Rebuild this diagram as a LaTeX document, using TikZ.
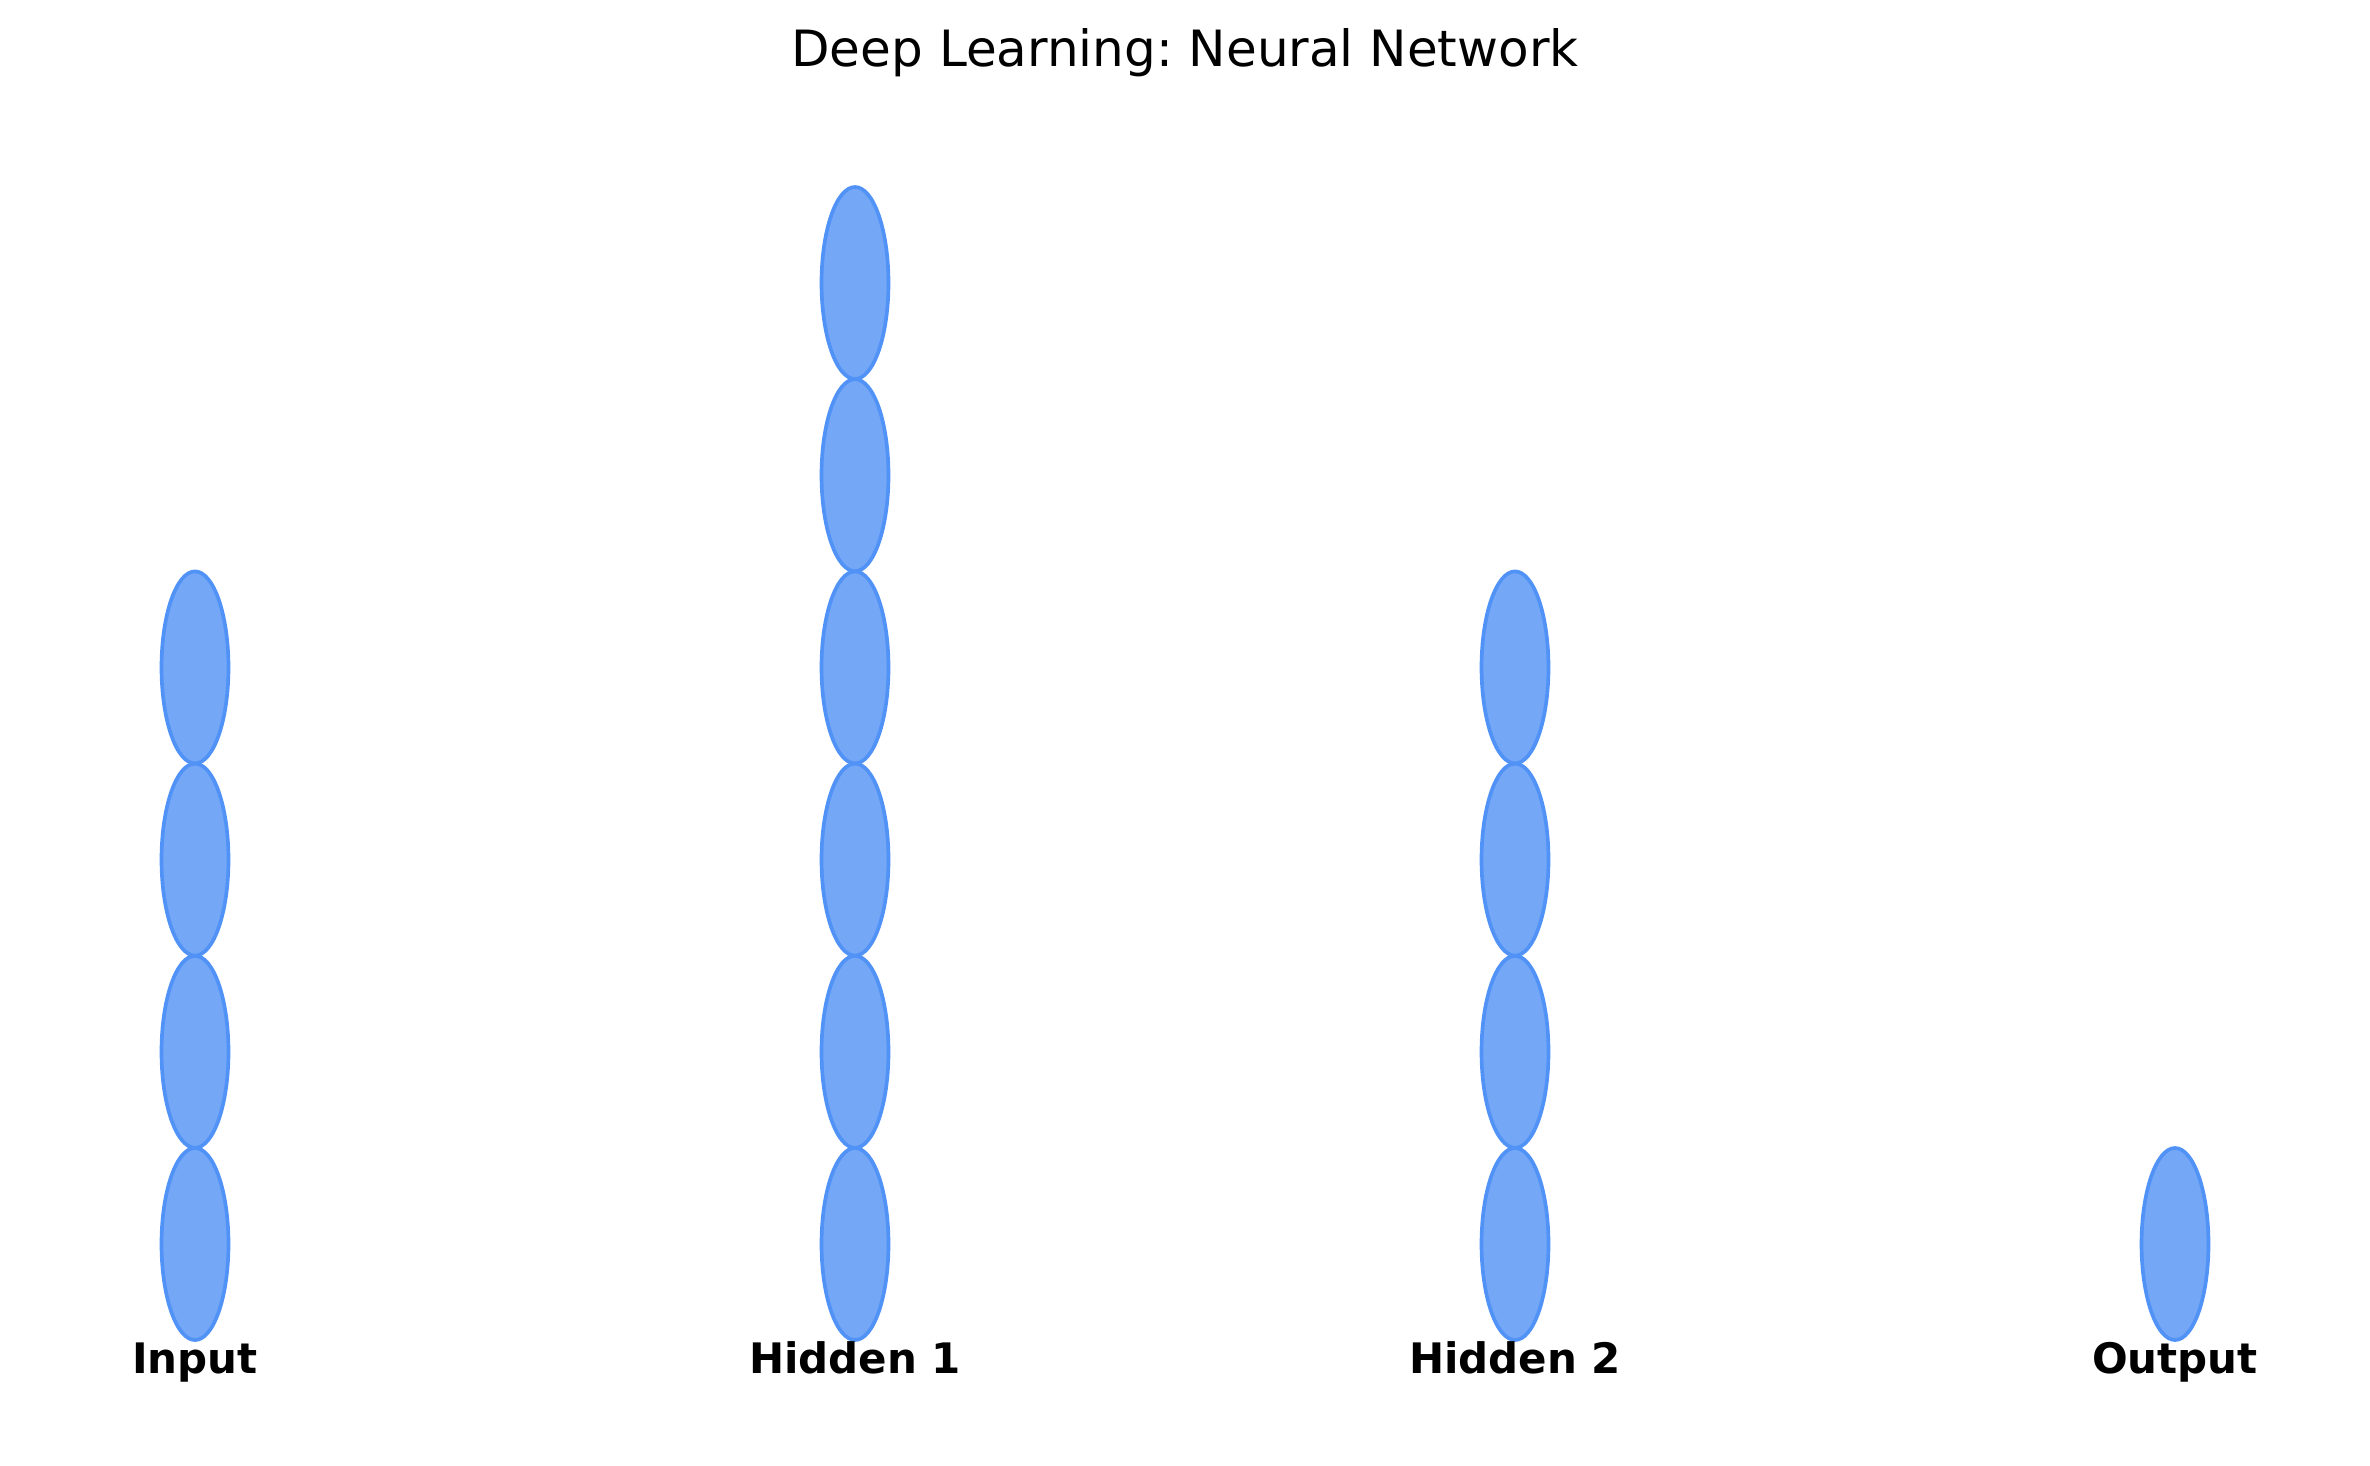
\documentclass[tikz,border=0pt]{standalone}
\usepackage{fontspec}
\setmainfont{DejaVu Sans}
\usetikzlibrary{shapes.geometric}
\definecolor{neuronfill}{RGB}{117,167,247}
\definecolor{neuronedge}{RGB}{80,146,246}
\tikzset{
  neuron/.style={ellipse, draw=neuronedge, fill=neuronfill, line width=1.1pt,
    minimum width=20.1pt, minimum height=57.6pt, inner sep=0pt},
  layerlabel/.style={anchor=base, inner sep=0pt, font=\fontsize{12.6}{15}\selectfont\bfseries},
  titlestyle/.style={anchor=base, inner sep=0pt, font=\fontsize{15}{18}\selectfont}
}
\frenchspacing
\begin{document}
\begin{tikzpicture}[x=0.3pt,y=-0.3pt]
\useasboundingbox (0,0) rectangle (2370,1466);
\node[titlestyle] (title) at (1185,66.7) {Deep Learning: Neural Network};
% Input layer
\foreach \k in {0,...,3} { \node[neuron] (in\k) at (195,{1244-192.2*\k}) {}; }
% Hidden 1
\foreach \k in {0,...,5} { \node[neuron] (ha\k) at (855,{1244-192.2*\k}) {}; }
% Hidden 2
\foreach \k in {0,...,3} { \node[neuron] (hb\k) at (1515,{1244-192.2*\k}) {}; }
% Output
\node[neuron] (out0) at (2175,1244) {};
\node[layerlabel] (linput) at (195,1373) {Input};
\node[layerlabel] (lh1) at (855,1373) {Hidden 1};
\node[layerlabel] (lh2) at (1515,1373) {Hidden 2};
\node[layerlabel] (lout) at (2175,1373) {Output};
\end{tikzpicture}
\end{document}
